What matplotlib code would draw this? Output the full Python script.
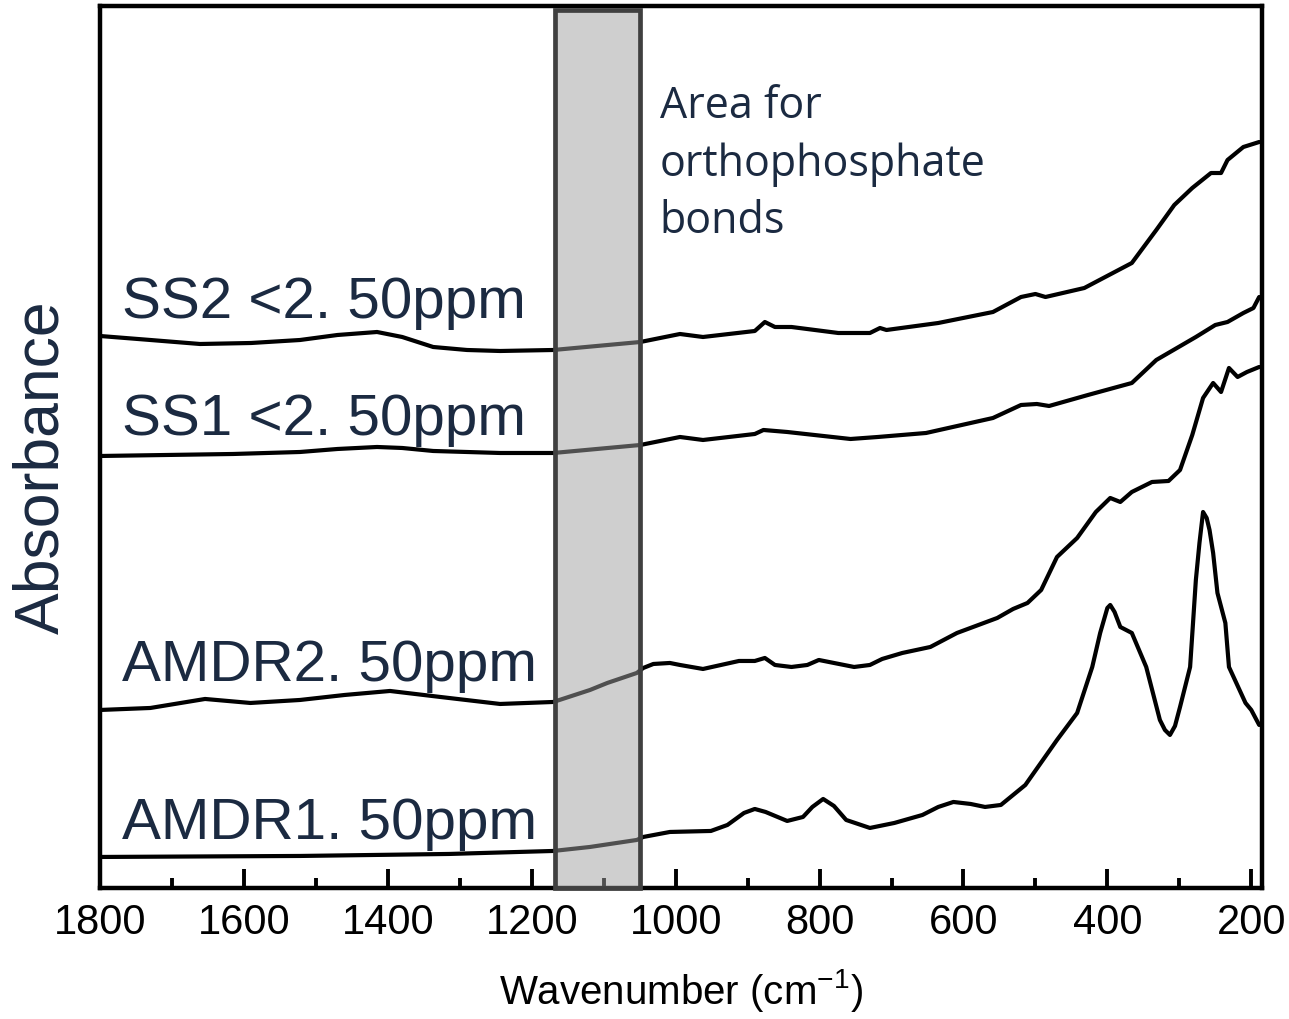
import matplotlib
matplotlib.use('Agg')
import matplotlib.pyplot as plt
from matplotlib.patches import Rectangle

plt.rcParams['font.family'] = ['Liberation Sans', 'DejaVu Sans']
plt.rcParams['mathtext.default'] = 'regular'

# FTIR spectra (absorbance offset, arbitrary units)
wn_ss2 = [1800, 1730, 1661, 1590, 1522, 1470, 1415, 1380, 1337, 1290, 1244, 1170, 1049,
          994, 962, 890, 876, 862, 839, 774, 730, 716, 707, 635, 559, 520, 500, 486, 432,
          366, 332, 307, 282, 256, 242, 233, 211, 189]
abs_ss2 = [0.552, 0.548, 0.544, 0.545, 0.548, 0.553, 0.556, 0.551, 0.541, 0.538, 0.537,
           0.538, 0.546, 0.554, 0.551, 0.557, 0.566, 0.561, 0.561, 0.555, 0.555, 0.560,
           0.558, 0.565, 0.576, 0.591, 0.594, 0.591, 0.600, 0.625, 0.658, 0.683, 0.700,
           0.715, 0.715, 0.728, 0.741, 0.746]

wn_ss1 = [1800, 1615, 1522, 1470, 1415, 1380, 1337, 1244, 1170, 1049, 994, 962, 890, 878,
          845, 757, 719, 652, 559, 520, 498, 481, 427, 366, 332, 277, 250, 233, 211, 197, 189]
abs_ss1 = [0.432, 0.434, 0.436, 0.439, 0.441, 0.440, 0.437, 0.435, 0.435, 0.443, 0.451,
           0.448, 0.454, 0.458, 0.456, 0.449, 0.451, 0.455, 0.470, 0.483, 0.484, 0.482,
           0.493, 0.505, 0.528, 0.551, 0.563, 0.566, 0.575, 0.580, 0.591]

wn_amdr2 = [1800, 1730, 1654, 1591, 1522, 1460, 1397, 1327, 1244, 1170, 1119, 1095, 1054,
            1045, 1031, 1008, 994, 962, 912, 890, 876, 862, 839, 817, 801, 780, 752, 730,
            713, 685, 646, 609, 553, 531, 511, 492, 470, 442, 416, 396, 382, 366, 338, 315,
            299, 282, 267, 253, 242, 231, 219, 206, 189]
abs_amdr2 = [0.178, 0.180, 0.189, 0.185, 0.188, 0.193, 0.197, 0.191, 0.184, 0.186, 0.198,
             0.205, 0.215, 0.220, 0.224, 0.225, 0.223, 0.219, 0.227, 0.227, 0.230, 0.223,
             0.221, 0.223, 0.228, 0.225, 0.221, 0.223, 0.229, 0.235, 0.241, 0.255, 0.270,
             0.279, 0.285, 0.298, 0.331, 0.350, 0.376, 0.390, 0.386, 0.396, 0.406, 0.407,
             0.418, 0.453, 0.490, 0.505, 0.496, 0.520, 0.511, 0.516, 0.521]

wn_amdr1 = [1800, 1522, 1315, 1170, 1119, 1054, 1045, 1008, 951, 928, 905, 890, 875, 845,
            823, 810, 795, 780, 763, 730, 696, 657, 635, 614, 590, 570, 548, 514, 470, 442,
            421, 410, 400, 396, 390, 382, 366, 346, 327, 320, 313, 306, 299, 285, 277, 272,
            267, 262, 258, 253, 247, 236, 231, 208, 200, 189]
abs_amdr1 = [0.031, 0.032, 0.034, 0.037, 0.041, 0.048, 0.051, 0.056, 0.057, 0.063, 0.075,
             0.079, 0.076, 0.067, 0.071, 0.081, 0.089, 0.082, 0.068, 0.060, 0.065, 0.073,
             0.081, 0.086, 0.084, 0.081, 0.083, 0.103, 0.148, 0.175, 0.221, 0.255, 0.280,
             0.283, 0.276, 0.261, 0.255, 0.221, 0.168, 0.158, 0.153, 0.162, 0.181, 0.221,
             0.308, 0.345, 0.376, 0.370, 0.358, 0.335, 0.295, 0.265, 0.221, 0.185, 0.178,
             0.163]

labels = ['SS2 <2. 50ppm', 'SS1 <2. 50ppm', 'AMDR2. 50ppm', 'AMDR1. 50ppm']
label_y = [0.570, 0.453, 0.207, 0.049]
note_lines = ['Area for', 'orthophosphate', 'bonds']
note_y = [0.770, 0.712, 0.655]
band = (1050, 1168)  # orthophosphate region, cm-1

navy = '#1b2a41'

fig = plt.figure(figsize=(12.89, 10.19), dpi=100)
ax = fig.add_axes([0.0776, 0.1286, 0.9015, 0.8655])

for wn, ab in [(wn_ss2, abs_ss2), (wn_ss1, abs_ss1), (wn_amdr2, abs_amdr2), (wn_amdr1, abs_amdr1)]:
    ax.plot(wn, ab, color='black', lw=3.0, solid_joinstyle='round', solid_capstyle='round', zorder=2)

# shaded band sits on top of the traces so they show through grey
box = Rectangle((band[0], 0), band[1] - band[0], 0.878, facecolor=(0.63, 0.63, 0.63, 0.5),
                edgecolor='#404040', lw=3.4, zorder=5, clip_on=False)
ax.add_patch(box)

for txt, y in zip(labels, label_y):
    ax.text(1769, y, txt, fontsize=42, color=navy, ha='left', va='baseline')

for txt, y in zip(note_lines, note_y):
    ax.text(1022, y, txt, fontsize=31, color=navy, ha='left', va='baseline', family='Open Sans')

ax.set_xlim(1800, 185)
ax.set_ylim(0, 0.882)
ax.set_xticks(range(1800, 199, -200))
ax.set_xticks(range(1700, 299, -200), minor=True)
ax.set_yticks([])
ax.tick_params(axis='x', which='major', direction='in', length=14, width=2.8, labelsize=30, pad=11)
ax.tick_params(axis='x', which='minor', direction='in', length=7, width=2.8)
for s in ax.spines.values():
    s.set_linewidth(3.2)
    s.set_color('black')

fig.text(0.0326, 0.5417, 'Absorbance', rotation=90, fontsize=45, color=navy, ha='center', va='center')
fig.text(0.528, 0.0275, 'Wavenumber (cm$^{-1}$)', fontsize=29, color='black', ha='center', va='center')

fig.savefig('out.png', dpi=100)
